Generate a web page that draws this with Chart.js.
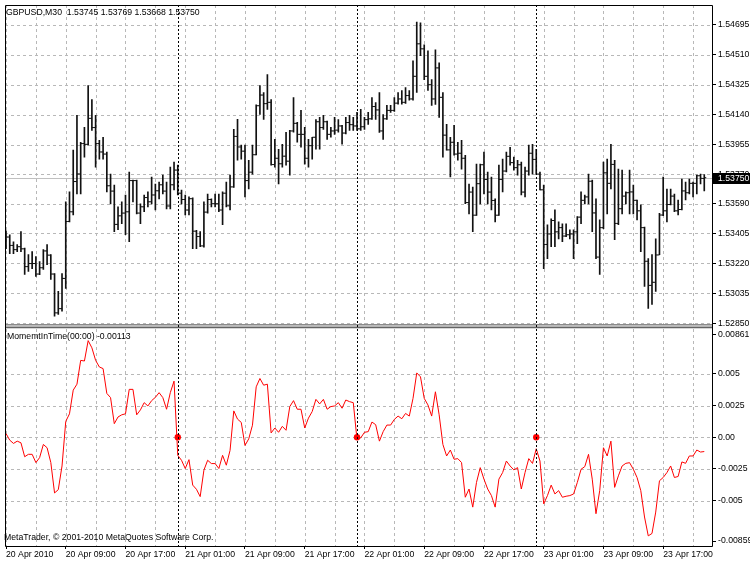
<!DOCTYPE html>
<html><head><meta charset="utf-8">
<script src="https://cdn.jsdelivr.net/npm/chart.js@4.4.1/dist/chart.umd.min.js"></script>
<style>html,body{margin:0;padding:0;background:#fff;}canvas{display:block;}</style>
</head><body>
<canvas id="c" width="750" height="563"></canvas>
<script>
// ---------- data ----------
const SYMBOL_TITLE = 'GBPUSD,M30';
const FIRST_BAR_TIME = '2010-04-20T01:00:00Z';
const BAR_MINUTES = 30;

const OPEN = [1.53370,1.53383,1.53331,1.53305,1.53323,1.53310,1.53200,1.53219,1.53219,1.53154,
1.53193,1.53297,1.53271,1.53154,1.52914,1.52940,1.53127,1.53479,1.53539,1.53726,
1.53773,1.53961,1.53956,1.54117,1.54060,1.53961,1.53909,1.53896,1.53700,1.53667,
1.53461,1.53514,1.53531,1.53539,1.53732,1.53732,1.53531,1.53570,1.53627,1.53601,
1.53643,1.53669,1.53706,1.53667,1.53575,1.53706,1.53797,1.53654,1.53615,1.53550,
1.53620,1.53419,1.53386,1.53328,1.53537,1.53615,1.53589,1.53589,1.53550,1.53654,
1.53576,1.53693,1.54005,1.53940,1.53914,1.53732,1.53784,1.53892,1.54195,1.54261,
1.54208,1.54216,1.53831,1.53870,1.53836,1.53883,1.53852,1.54039,1.54086,1.54018,
1.54018,1.53870,1.53948,1.54000,1.54096,1.54060,1.54096,1.54018,1.54039,1.54044,
1.54070,1.54026,1.54091,1.54078,1.54070,1.54052,1.54065,1.54109,1.54114,1.54190,
1.54169,1.54039,1.54114,1.54166,1.54166,1.54211,1.54237,1.54216,1.54258,1.54237,
1.54377,1.54578,1.54547,1.54377,1.54325,1.54237,1.54429,1.54247,1.54013,1.53922,
1.53969,1.53896,1.53901,1.53870,1.53596,1.53661,1.53518,1.53713,1.53830,1.53739,
1.53661,1.53609,1.53518,1.53739,1.53791,1.53882,1.53843,1.53812,1.53830,1.53661,
1.53791,1.53901,1.53863,1.53772,1.53675,1.53337,1.53402,1.53485,1.53415,1.53441,
1.53389,1.53397,1.53402,1.53415,1.53506,1.53610,1.53631,1.53728,1.53532,1.53259,
1.53441,1.53780,1.53715,1.53832,1.53467,1.53558,1.53636,1.53657,1.53662,1.53610,
1.53545,1.53441,1.53233,1.53084,1.53103,1.53272,1.53519,1.53545,1.53584,1.53636,
1.53545,1.53553,1.53668,1.53657,1.53715,1.53715,1.53762,1.53745];

const HIGH = [1.53422,1.53397,1.53354,1.53336,1.53416,1.53315,1.53274,1.53293,1.53262,1.53231,
1.53305,1.53336,1.53274,1.53157,1.53047,1.53157,1.53600,1.53662,1.53920,1.54135,
1.53969,1.54061,1.54320,1.54233,1.54135,1.53981,1.54000,1.53908,1.53772,1.53705,
1.53569,1.53600,1.53643,1.53785,1.53735,1.53735,1.53588,1.53643,1.53662,1.53754,
1.53711,1.53723,1.53766,1.53723,1.53815,1.53846,1.53828,1.53674,1.53643,1.53631,
1.53625,1.53425,1.53416,1.53600,1.53649,1.53619,1.53649,1.53649,1.53662,1.53723,
1.53766,1.54049,1.54111,1.53951,1.53951,1.53858,1.53951,1.54200,1.54320,1.54277,
1.54387,1.54233,1.53987,1.53926,1.53957,1.54031,1.54043,1.54246,1.54092,1.54166,
1.54061,1.53987,1.54000,1.54110,1.54123,1.54135,1.54100,1.54061,1.54123,1.54110,
1.54074,1.54123,1.54135,1.54123,1.54154,1.54172,1.54123,1.54154,1.54246,1.54215,
1.54277,1.54141,1.54197,1.54197,1.54246,1.54277,1.54289,1.54307,1.54289,1.54473,
1.54713,1.54707,1.54572,1.54535,1.54356,1.54541,1.54461,1.54277,1.54080,1.54000,
1.54074,1.53969,1.53981,1.53889,1.53711,1.53692,1.53834,1.53834,1.53908,1.53785,
1.53754,1.53619,1.53828,1.53865,1.53908,1.53938,1.53877,1.53858,1.53846,1.53815,
1.53951,1.53957,1.53926,1.53785,1.53705,1.53459,1.53495,1.53551,1.53477,1.53465,
1.53465,1.53428,1.53428,1.53510,1.53662,1.53643,1.53772,1.53735,1.53619,1.53489,
1.53846,1.53865,1.53957,1.53858,1.53803,1.53797,1.53662,1.53797,1.53705,1.53612,
1.53582,1.53445,1.53249,1.53274,1.53372,1.53530,1.53754,1.53680,1.53680,1.53649,
1.53612,1.53741,1.53723,1.53741,1.53723,1.53766,1.53772,1.53769];

const LOW = [1.53311,1.53280,1.53280,1.53293,1.53293,1.53151,1.53170,1.53188,1.53139,1.53150,
1.53182,1.53212,1.53120,1.52893,1.52905,1.52924,1.53065,1.53477,1.53520,1.53649,
1.53649,1.53877,1.53951,1.54043,1.53815,1.53865,1.53865,1.53662,1.53588,1.53416,
1.53428,1.53465,1.53397,1.53354,1.53600,1.53526,1.53465,1.53539,1.53569,1.53588,
1.53551,1.53619,1.53649,1.53557,1.53557,1.53674,1.53643,1.53588,1.53520,1.53520,
1.53311,1.53311,1.53323,1.53320,1.53530,1.53569,1.53569,1.53539,1.53459,1.53569,
1.53551,1.53690,1.53858,1.53865,1.53631,1.53680,1.53772,1.53890,1.54141,1.54110,
1.54172,1.53828,1.53815,1.53711,1.53815,1.53828,1.53766,1.54031,1.53969,1.53938,
1.53834,1.53815,1.53865,1.53926,1.53926,1.54049,1.53987,1.54000,1.54018,1.54031,
1.53957,1.54020,1.54043,1.54043,1.54043,1.54043,1.54049,1.54080,1.54110,1.54110,
1.54030,1.53987,1.54110,1.54154,1.54160,1.54205,1.54205,1.54210,1.54230,1.54230,
1.54277,1.54504,1.54356,1.54289,1.54197,1.54203,1.54123,1.53877,1.53920,1.53754,
1.53889,1.53858,1.53803,1.53590,1.53526,1.53416,1.53516,1.53588,1.53649,1.53588,
1.53551,1.53477,1.53516,1.53662,1.53785,1.53828,1.53797,1.53766,1.53643,1.53631,
1.53766,1.53772,1.53772,1.53674,1.53188,1.53249,1.53323,1.53323,1.53372,1.53354,
1.53385,1.53372,1.53249,1.53342,1.53465,1.53588,1.53588,1.53416,1.53249,1.53151,
1.53434,1.53526,1.53680,1.53366,1.53460,1.53526,1.53588,1.53526,1.53526,1.53489,
1.53293,1.53077,1.52942,1.52966,1.53047,1.53274,1.53515,1.53477,1.53582,1.53540,
1.53520,1.53550,1.53612,1.53649,1.53631,1.53649,1.53711,1.53668];

const CLOSE = [1.53383,1.53331,1.53305,1.53323,1.53310,1.53200,1.53219,1.53219,1.53154,1.53193,
1.53297,1.53271,1.53154,1.52914,1.52940,1.53127,1.53479,1.53539,1.53726,1.53773,
1.53961,1.53956,1.54117,1.54060,1.53961,1.53909,1.53896,1.53700,1.53667,1.53461,
1.53514,1.53531,1.53539,1.53732,1.53732,1.53531,1.53570,1.53627,1.53601,1.53643,
1.53669,1.53706,1.53667,1.53575,1.53706,1.53797,1.53654,1.53615,1.53550,1.53620,
1.53419,1.53386,1.53328,1.53537,1.53615,1.53589,1.53589,1.53550,1.53654,1.53576,
1.53693,1.54005,1.53940,1.53914,1.53732,1.53784,1.53892,1.54195,1.54261,1.54208,
1.54216,1.53831,1.53870,1.53836,1.53883,1.53852,1.54039,1.54086,1.54018,1.54018,
1.53870,1.53948,1.54000,1.54096,1.54060,1.54096,1.54018,1.54039,1.54044,1.54070,
1.54026,1.54091,1.54078,1.54070,1.54052,1.54065,1.54109,1.54114,1.54190,1.54169,
1.54039,1.54114,1.54166,1.54166,1.54211,1.54237,1.54216,1.54258,1.54237,1.54377,
1.54578,1.54547,1.54377,1.54325,1.54237,1.54429,1.54247,1.54013,1.53922,1.53969,
1.53896,1.53901,1.53870,1.53596,1.53661,1.53518,1.53713,1.53830,1.53739,1.53661,
1.53609,1.53518,1.53739,1.53791,1.53882,1.53843,1.53812,1.53830,1.53661,1.53791,
1.53901,1.53863,1.53772,1.53675,1.53337,1.53402,1.53485,1.53415,1.53441,1.53389,
1.53397,1.53402,1.53415,1.53506,1.53610,1.53631,1.53728,1.53532,1.53259,1.53441,
1.53780,1.53715,1.53832,1.53467,1.53558,1.53636,1.53657,1.53662,1.53610,1.53545,
1.53441,1.53233,1.53084,1.53103,1.53272,1.53519,1.53545,1.53584,1.53636,1.53545,
1.53553,1.53668,1.53657,1.53715,1.53715,1.53762,1.53746,1.53750];

const INDICATOR_NAME = 'MomemtInTime(00:00)';
const MOMENTUM = [0.00029,-0.00023,-0.00049,-0.00031,-0.00044,-0.00154,-0.00135,-0.00135,-0.00200,-0.00161,
-0.00057,-0.00083,-0.00200,-0.00440,-0.00414,-0.00227,0.00125,0.00185,0.00372,0.00419,
0.00607,0.00602,0.00763,0.00706,0.00607,0.00555,0.00542,0.00346,0.00313,0.00107,
0.00160,0.00177,0.00185,0.00378,0.00378,0.00177,0.00216,0.00273,0.00247,0.00289,
0.00315,0.00352,0.00313,0.00221,0.00352,0.00443,-0.00143,-0.00182,-0.00247,-0.00177,
-0.00378,-0.00411,-0.00469,-0.00260,-0.00182,-0.00208,-0.00208,-0.00247,-0.00143,-0.00221,
-0.00104,0.00208,0.00143,0.00117,-0.00065,-0.00013,0.00095,0.00398,0.00464,0.00411,
0.00419,0.00034,0.00073,0.00039,0.00086,0.00055,0.00242,0.00289,0.00221,0.00221,
0.00073,0.00151,0.00203,0.00299,0.00263,0.00299,0.00221,0.00242,0.00247,0.00273,
0.00229,0.00294,0.00281,0.00273,-0.00018,-0.00005,0.00039,0.00044,0.00120,0.00099,
-0.00031,0.00044,0.00096,0.00096,0.00141,0.00167,0.00146,0.00188,0.00167,0.00307,
0.00508,0.00477,0.00307,0.00255,0.00167,0.00359,0.00177,-0.00057,-0.00148,-0.00101,
-0.00174,-0.00169,-0.00200,-0.00474,-0.00409,-0.00552,-0.00357,-0.00240,-0.00331,-0.00409,
-0.00461,-0.00552,-0.00331,-0.00279,-0.00188,-0.00227,-0.00258,-0.00240,-0.00409,-0.00279,
-0.00169,-0.00207,-0.00091,-0.00188,-0.00526,-0.00461,-0.00378,-0.00448,-0.00422,-0.00474,
-0.00466,-0.00461,-0.00448,-0.00357,-0.00253,-0.00232,-0.00135,-0.00331,-0.00604,-0.00422,
-0.00083,-0.00148,-0.00031,-0.00396,-0.00305,-0.00227,-0.00206,-0.00201,-0.00253,-0.00318,
-0.00422,-0.00630,-0.00779,-0.00760,-0.00591,-0.00344,-0.00318,-0.00279,-0.00227,-0.00318,
-0.00310,-0.00195,-0.00206,-0.00148,-0.00148,-0.00101,-0.00117,-0.00113];

const PRICE_TICKS = [1.52850,1.53035,1.53220,1.53405,1.53590,1.53770,1.53955,1.54140,1.54325,1.54510,1.54695];
const PRICE_RANGE = [1.52819, 1.54818];
const MOMENTUM_TICKS = [-0.005,-0.0025,0,0.0025,0.005];
const MOMENTUM_TICK_LABELS = ['-0.005','-0.0025','0.00','0.0025','0.005'];
const MOMENTUM_RANGE = [-0.00859, 0.00861];
const TIME_LABELS = ['20 Apr 2010','20 Apr 09:00','20 Apr 17:00','21 Apr 01:00','21 Apr 09:00','21 Apr 17:00',
  '22 Apr 01:00','22 Apr 09:00','22 Apr 17:00','23 Apr 01:00','23 Apr 09:00','23 Apr 17:00'];
const COPYRIGHT = 'MetaTrader, \u00A9 2001-2010 MetaQuotes Software Corp.';

// ---------- derived helpers ----------
const FONT = 'Liberation Sans';
const FS = 8.7;
const n = CLOSE.length;
const idx = CLOSE.map((_, i) => i);
const t0 = Date.parse(FIRST_BAR_TIME);
const dayStarts = idx.filter(i => { const d = new Date(t0 + i * BAR_MINUTES * 60000); return d.getUTCHours() === 0 && d.getUTCMinutes() === 0; });
const GRID_STEP = 8, LABEL_STEP = 16;
const GRID_COLOR = '#b8b8b8';

const decor = {
  id: 'mt4decor',
  beforeDatasetsDraw(chart) {
    const {ctx, chartArea: a, scales: {x, y, y2}} = chart;
    ctx.save();
    ctx.lineWidth = 1; ctx.strokeStyle = GRID_COLOR; ctx.setLineDash([3, 3]);
    // dashed grid (x across both panes, y/y2 inside their panes)
    x.ticks.forEach(t => {
      const px = Math.round(x.getPixelForValue(t.value)) + 0.5;
      if (px <= a.left + 1) return;
      ctx.beginPath(); ctx.moveTo(px, a.top); ctx.lineTo(px, a.bottom); ctx.stroke();
    });
    [y, y2].forEach(s => s.ticks.forEach(t => {
      const py = Math.round(s.getPixelForValue(t.value)) + 0.5;
      ctx.beginPath(); ctx.moveTo(a.left, py); ctx.lineTo(a.right, py); ctx.stroke();
    }));
    ctx.setLineDash([]);
    // last price line
    const yy = Math.round(y.getPixelForValue(CLOSE[n - 1])) + 0.5;
    ctx.strokeStyle = '#c0c0c0';
    ctx.beginPath(); ctx.moveTo(a.left, yy); ctx.lineTo(a.right, yy); ctx.stroke();
    ctx.restore();
  },
  afterDatasetsDraw(chart) {
    const {ctx, chartArea: a, scales: {x, y}} = chart;
    ctx.save();
    // pane separator
    const b = y.bottom;
    ctx.fillStyle = '#fff'; ctx.fillRect(a.left, b - 4, a.right - a.left, 4);
    ctx.fillStyle = '#6e6e6e'; ctx.fillRect(a.left, b - 4, a.right - a.left, 1);
    ctx.fillStyle = '#b4b4b4'; ctx.fillRect(a.left, b - 3, a.right - a.left, 2);
    ctx.fillStyle = '#404040'; ctx.fillRect(a.left, b - 1, a.right - a.left, 1);
    // day separators
    ctx.strokeStyle = '#000'; ctx.lineWidth = 1; ctx.setLineDash([2, 2]);
    dayStarts.forEach(i => {
      const px = Math.round(x.getPixelForValue(i)) + 0.5;
      ctx.beginPath(); ctx.moveTo(px, a.top); ctx.lineTo(px, a.bottom); ctx.stroke();
    });
    ctx.setLineDash([]);
    // frame
    ctx.strokeStyle = '#000';
    ctx.beginPath();
    ctx.moveTo(a.left + 0.5, a.top + 0.5); ctx.lineTo(a.right + 0.5, a.top + 0.5);
    ctx.lineTo(a.right + 0.5, a.bottom + 0.5); ctx.lineTo(a.left + 0.5, a.bottom + 0.5);
    ctx.closePath(); ctx.stroke();
    ctx.restore();
  },
  afterDraw(chart) {
    const {ctx, chartArea: a, scales: {y, y2}} = chart;
    ctx.save();
    ctx.font = FS + 'px "' + FONT + '"';
    ctx.textBaseline = 'middle'; ctx.textAlign = 'left';
    // extreme labels of the indicator pane
    ctx.fillStyle = '#000'; ctx.strokeStyle = '#000'; ctx.lineWidth = 1;
    const top = y2.top + 6, bot = y2.bottom - 5;
    [[top, MOMENTUM_RANGE[1]], [bot, MOMENTUM_RANGE[0]]].forEach(([py, v]) => {
      ctx.beginPath(); ctx.moveTo(a.right, Math.round(py) + 0.5); ctx.lineTo(a.right + 4, Math.round(py) + 0.5); ctx.stroke();
      ctx.fillText(v.toFixed(5), a.right + 6, py);
    });
    // current price box
    const py = y.getPixelForValue(CLOSE[n - 1]);
    ctx.fillStyle = '#000';
    ctx.fillRect(a.right + 1, Math.round(py) - 5, chart.width - a.right - 1, 11);
    ctx.fillStyle = '#fff';
    ctx.fillText(CLOSE[n - 1].toFixed(5), a.right + 6, Math.round(py) + 0.5);
    // texts
    ctx.fillStyle = '#000';
    const hdr = SYMBOL_TITLE + '  ' + [OPEN[n-1], HIGH[n-1], LOW[n-1], CLOSE[n-1]].map(v => v.toFixed(5)).join(' ');
    ctx.fillText(hdr, 6, a.top + 8);
    ctx.fillText(INDICATOR_NAME + ' ' + MOMENTUM[n - 1].toFixed(5), 7, y2.top + 8.5);
    ctx.fillText(COPYRIGHT, 4, a.bottom - 8.5);
    ctx.restore();
  }
};

const tickFont = {family: FONT, size: FS};
const gridBase = {drawOnChartArea: false, drawTicks: true, tickBorderDash: [], tickColor: '#000', tickWidth: 1, color: GRID_COLOR};

new Chart(document.getElementById('c'), {
  type: 'line',
  data: {
    datasets: [
      {
        type: 'bar', label: 'High-Low', xAxisID: 'x', yAxisID: 'y',
        data: idx.map(i => ({x: i, y: [LOW[i], HIGH[i]]})),
        backgroundColor: '#111', borderWidth: 0, barThickness: 1, order: 2
      },
      {
        type: 'line', label: 'Open', xAxisID: 'x', yAxisID: 'y', showLine: false,
        data: idx.map(i => ({x: i - 0.27, y: OPEN[i]})),
        pointStyle: 'line', pointRadius: 1, pointBorderWidth: 1, pointBorderColor: '#111', order: 1
      },
      {
        type: 'line', label: 'Close', xAxisID: 'x', yAxisID: 'y', showLine: false,
        data: idx.map(i => ({x: i + 0.27, y: CLOSE[i]})),
        pointStyle: 'line', pointRadius: 1, pointBorderWidth: 1, pointBorderColor: '#111', order: 1
      },
      {
        type: 'line', label: INDICATOR_NAME, xAxisID: 'x', yAxisID: 'y2',
        data: idx.map(i => ({x: i, y: MOMENTUM[i]})),
        borderColor: '#ff0000', borderWidth: 1, pointRadius: 0, tension: 0, order: 1
      },
      {
        type: 'line', label: 'Day start', xAxisID: 'x', yAxisID: 'y2', showLine: false,
        data: dayStarts.map(i => ({x: i, y: 0})),
        pointRadius: 3.2, pointBackgroundColor: '#ff0000', pointBorderColor: '#ff0000', pointBorderWidth: 0, order: 0
      }
    ]
  },
  options: {
    responsive: false, animation: false, devicePixelRatio: 1, events: [],
    layout: {padding: {left: 2, top: 2, right: 0, bottom: 0}},
    plugins: {legend: {display: false}, tooltip: {enabled: false}, title: {display: false}},
    scales: {
      x: {
        type: 'linear', position: 'bottom', min: -0.27, max: n + 1.07, offset: false,
        afterBuildTicks: s => { const t = []; for (let v = 0; v < n; v += GRID_STEP) t.push({value: v}); s.ticks = t; },
        afterFit: s => { s.height = 17; s.paddingLeft = 0; s.paddingRight = 0; },
        grid: Object.assign({}, gridBase, {tickLength: 3, offset: false,
          tickColor: c => (c.tick && c.tick.value % LABEL_STEP === 0) ? '#000' : 'rgba(0,0,0,0)'}),
        border: {display: false},
        ticks: {autoSkip: false, maxRotation: 0, minRotation: 0, align: 'start', padding: 0, color: '#000', font: tickFont,
          callback: v => (v % LABEL_STEP === 0 ? (TIME_LABELS[v / LABEL_STEP] || '') : '')}
      },
      y: {
        type: 'linear', position: 'right', stack: 'panes', stackWeight: 325,
        min: PRICE_RANGE[0], max: PRICE_RANGE[1],
        afterBuildTicks: s => { s.ticks = PRICE_TICKS.map(v => ({value: v})); },
        afterFit: s => { s.width = 38; s.paddingTop = 0; s.paddingBottom = 0; },
        grid: Object.assign({}, gridBase, {tickLength: 4}),
        border: {display: false},
        ticks: {padding: 2, color: '#000', font: tickFont, callback: v => Number(v).toFixed(5)}
      },
      y2: {
        type: 'linear', position: 'right', stack: 'panes', stackWeight: 219,
        min: MOMENTUM_RANGE[0], max: MOMENTUM_RANGE[1],
        afterBuildTicks: s => { s.ticks = MOMENTUM_TICKS.map(v => ({value: v})); },
        afterFit: s => { s.width = 38; s.paddingTop = 0; s.paddingBottom = 0; },
        grid: Object.assign({}, gridBase, {tickLength: 4}),
        border: {display: false},
        ticks: {padding: 2, color: '#000', font: tickFont,
          callback: v => { const k = MOMENTUM_TICKS.findIndex(t => Math.abs(t - v) < 1e-9); return k >= 0 ? MOMENTUM_TICK_LABELS[k] : ''; }}
      }
    }
  },
  plugins: [decor]
});
</script>
</body></html>
